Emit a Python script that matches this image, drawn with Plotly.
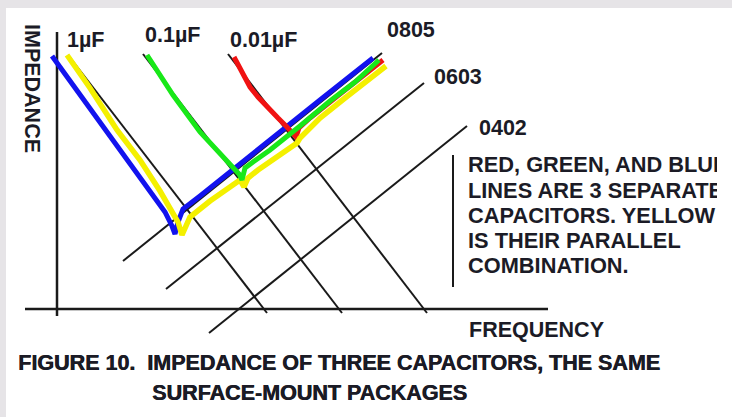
import plotly.graph_objects as go

# ---- data (schematic units: x = log frequency, y = log impedance; origin at axis corner) ----
impedance_axis_x = [0, 0]
impedance_axis_y = [-7, 277]
frequency_axis_x = [-32, 491]
frequency_axis_y = [0, 0]

cap_labels = ["1µF", "0.1µF", "0.01µF"]
cap_x0 = [11, 86, 171]
cap_y0 = [254, 255, 255]
cap_x1 = [210, 285, 370]
cap_y1 = [-4, -4, -4]
cap_label_x = [8, 86, 171]
cap_label_y = [269, 274, 269]

pkg_labels = ["0805", "0603", "0402"]
pkg_x0 = [66, 109, 152]
pkg_y0 = [48, 20, -24]
pkg_x1 = [325, 367, 410]
pkg_y1 = [256, 226, 183]
pkg_label_x = [328, 375, 420]
pkg_label_y = [279, 232, 181]

blue_x = [-5, 18, 43, 68, 93, 108, 115, 118, 121, 126, 143, 180, 223, 263, 293, 316]
blue_y = [253, 221, 187, 151, 117, 97, 83, 75, 87, 100, 113, 142, 177, 209, 233, 251]

green_x = [90, 116, 143, 163, 176, 182, 185, 188, 196, 213, 243, 273, 298, 322]
green_y = [254, 214, 177, 155, 142, 135, 129, 141, 147, 159, 183, 208, 227, 249]

red_x = [177, 185, 193, 201, 210, 221, 229, 235, 239, 242, 253, 283, 308, 326]
red_y = [252, 237, 222, 212, 202, 191, 183, 176, 172, 181, 191, 215, 235, 249]

yellow_x = [10, 33, 60, 83, 103, 115, 121, 125, 128, 133, 153, 183, 187, 191, 201, 218,
            235, 240, 243, 263, 288, 308, 329]
yellow_y = [254, 221, 179, 149, 118, 99, 87, 74, 81, 92, 108, 129, 122, 131, 139, 151,
            162, 166, 171, 191, 211, 227, 243]

divider_x = [396, 396]
divider_y = [22, 154]

note_lines = ["RED, GREEN, AND BLUE", "LINES ARE 3 SEPARATE", "CAPACITORS. YELLOW",
              "IS THEIR PARALLEL", "COMBINATION."]
note_x = [411, 411, 411, 411, 411]
note_y = [142, 116, 91, 66, 41]

y_title = "IMPEDANCE"
y_title_pos = (-25, 221)
x_title = "FREQUENCY"
x_title_pos = (410, -21)
caption_lines = ["FIGURE 10.  IMPEDANCE OF THREE CAPACITORS, THE SAME", "SURFACE-MOUNT PACKAGES"]
caption_x = [-41, 93]
caption_y = [-54, -84]

# ---- styles ----
FONT = "Liberation Sans, Arial, sans-serif"
TXT = "#1b1b26"
BLACK = "#1a1a1a"
FS = 21.5

fig = go.Figure()

def seg(xs, ys, color, width):
    fig.add_trace(go.Scatter(x=xs, y=ys, mode="lines", line=dict(color=color, width=width),
                             hoverinfo="skip", showlegend=False))

seg(impedance_axis_x, impedance_axis_y, BLACK, 2.5)
seg(frequency_axis_x, frequency_axis_y, BLACK, 2.5)
for i in range(len(cap_labels)):
    seg([cap_x0[i], cap_x1[i]], [cap_y0[i], cap_y1[i]], BLACK, 2)
for i in range(len(pkg_labels)):
    seg([pkg_x0[i], pkg_x1[i]], [pkg_y0[i], pkg_y1[i]], BLACK, 2)
seg(divider_x, divider_y, BLACK, 2)

seg(blue_x, blue_y, "#1212ee", 5)
seg(red_x, red_y, "#f01212", 5)
seg(yellow_x, yellow_y, "#f4f000", 5.5)
seg(green_x, green_y, "#18e818", 5)

# note text as a clipped text trace
fig.add_trace(go.Scatter(x=note_x, y=note_y, mode="text", text=note_lines,
                         textposition="middle right", cliponaxis=True,
                         textfont=dict(family=FONT, size=21.8, color=TXT, weight="bold"),
                         hoverinfo="skip", showlegend=False))

ann = []
def label(x, y, t, size=FS, shadow="none", **kw):
    ann.append(dict(x=x, y=y, text=t, showarrow=False, xanchor=kw.get("xanchor", "left"),
                    yanchor="middle", textangle=kw.get("textangle", 0),
                    font=dict(family=FONT, size=size, color=TXT, weight="bold", shadow=shadow)))

for i, t in enumerate(cap_labels):
    label(cap_label_x[i], cap_label_y[i], t)
for i, t in enumerate(pkg_labels):
    label(pkg_label_x[i], pkg_label_y[i], t)
label(y_title_pos[0], y_title_pos[1], y_title, xanchor="center", textangle=90)
label(x_title_pos[0], x_title_pos[1], x_title)
for i, t in enumerate(caption_lines):
    label(caption_x[i], caption_y[i], t, shadow="0.6px 0px 0px #111111")

fig.update_layout(
    width=732, height=417,
    margin=dict(l=6, r=15, t=8, b=0),
    paper_bgcolor="#e6e4e7",
    plot_bgcolor="#ffffff",
    xaxis=dict(range=[-51, 660], visible=False, fixedrange=True),
    yaxis=dict(range=[-108, 301], visible=False, fixedrange=True),
    annotations=ann,
    shapes=[dict(type="rect", xref="paper", yref="paper", x0=1, x1=1.03, y0=0, y1=1,
                 fillcolor="#ffffff", line=dict(width=0), layer="below")],
)

fig.write_html("out.html", config={"displayModeBar": False},
               post_script="document.body.style.margin='0';document.body.style.overflow='hidden';")
